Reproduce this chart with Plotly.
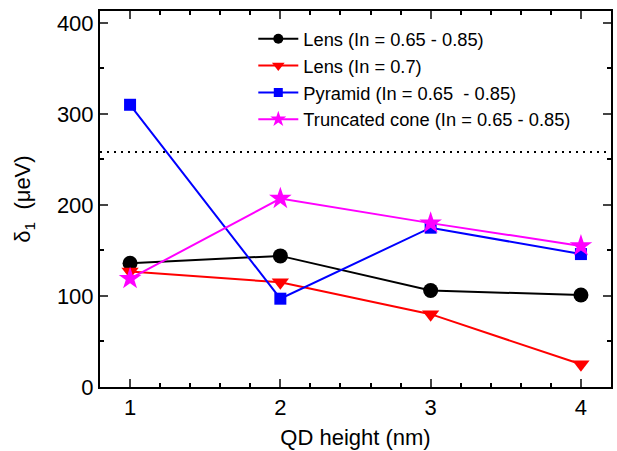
import plotly.graph_objects as go

heights = [1, 2, 3, 4]
lens_range = [136, 144, 106, 101]
lens_07 = [127, 115, 80, 25]
pyramid = [310, 97, 175, 146]
trunc_cone = [119, 207, 180, 155]
ref_level = 258

names = ["Lens (In = 0.65 - 0.85)", "Lens (In = 0.7)",
         "Pyramid (In = 0.65  - 0.85)", "Truncated cone (In = 0.65 - 0.85)"]
series = [lens_range, lens_07, pyramid, trunc_cone]
colors = ["black", "#ff0000", "#0000ff", "#ff00ff"]
symbols = ["circle", "triangle-down", "square", "star"]
sizes = [15, 15, 12, 17]
legend_sizes = [10, 11, 9, 12]

fig = go.Figure()
for n, s, c, sym, sz in zip(names, series, colors, symbols, sizes):
    fig.add_trace(go.Scatter(x=heights, y=s, name=n, mode="lines+markers", showlegend=False,
                             line=dict(color=c, width=2),
                             marker=dict(symbol=sym, size=sz, color=c)))
# legend entries (smaller symbols like the original)
for n, c, sym, sz in zip(names, colors, symbols, legend_sizes):
    fig.add_trace(go.Scatter(x=[None], y=[None], name=n, mode="lines+markers",
                             line=dict(color=c, width=2),
                             marker=dict(symbol=sym, size=sz, color=c)))

fig.add_shape(type="line", xref="paper", x0=0, x1=1, yref="y", y0=ref_level, y1=ref_level,
              line=dict(color="black", width=2, dash="2px,5px"))

font = "Liberation Sans, Arial, sans-serif"
fig.update_layout(
    width=617, height=451,
    margin=dict(l=100, r=6, t=11, b=64),
    plot_bgcolor="white", paper_bgcolor="white",
    font=dict(family=font, color="black"),
    showlegend=True,
    legend=dict(x=0.300, y=0.975, xanchor="left", yanchor="top",
                font=dict(size=18.3, family=font), bgcolor="rgba(0,0,0,0)",
                tracegroupgap=0, itemwidth=40),
)
fig.update_xaxes(range=[0.8, 4.2], tickvals=[1, 2, 3, 4], ticks="inside", ticklen=8,
                 tickwidth=1.5, showline=True, linecolor="black", linewidth=2, mirror="ticks",
                 showgrid=False, zeroline=False, tickfont=dict(size=22), automargin=False,
                 minor=dict(dtick=0.2, ticks="inside", ticklen=4, tickwidth=1.5, tickcolor="black", showgrid=False),
                 title=dict(text="QD height (nm)", font=dict(size=22), standoff=10))
fig.update_yaxes(range=[0, 413], tickvals=[0, 100, 200, 300, 400], ticks="inside", ticklen=8,
                 tickwidth=1.5, showline=True, linecolor="black", linewidth=2, mirror="ticks",
                 showgrid=False, zeroline=False, tickfont=dict(size=22), automargin=False,
                 minor=dict(dtick=50, ticks="inside", ticklen=4, tickwidth=1.5, tickcolor="black", showgrid=False),
                 title=dict(text="δ<sub>1</sub>  (μeV)", font=dict(size=22), standoff=20))

fig.write_html("out.html", post_script="document.body.style.margin='0';",
               config={"displayModeBar": False})
